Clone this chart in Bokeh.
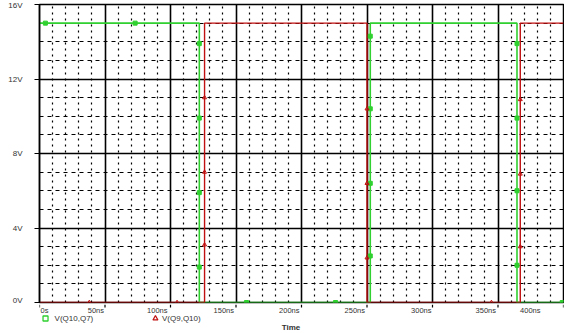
from bokeh.plotting import figure
from bokeh.layouts import column
from bokeh.models import FixedTicker, Range1d
from bokeh.core.properties import value
from bokeh.embed import file_html
from bokeh.resources import INLINE

# ---- data (ns, V) ----
green_t = [0, 122, 122, 252.5, 252.5, 364.5, 364.5, 400]
green_v = [15, 15, 0, 0, 15, 15, 0, 0]
red_t = [0, 126, 126, 250, 250, 367, 367, 400]
red_v = [0, 0, 15, 15, 0, 0, 15, 15]

green_mk_t = [4.5, 73, 122, 122, 122, 122, 158, 226, 252.5, 252.5, 252.5, 252.5, 364.5, 364.5, 364.5, 364.5, 399]
green_mk_v = [15, 15, 13.9, 9.9, 5.9, 1.9, 0, 0, 14.3, 10.4, 6.4, 2.5, 13.9, 9.9, 6.0, 2.0, 0]
red_mk_t = [38, 105, 126, 126, 126, 250, 250, 250, 345, 367, 367, 367]
red_mk_v = [0, 0, 11.0, 7.0, 3.1, 10.4, 6.4, 2.4, 0, 10.9, 6.9, 3.0]

x_ticks = [0, 50, 100, 150, 200, 250, 300, 350, 400]
x_tick_labels = ["0s", "50ns", "100ns", "150ns", "200ns", "250ns", "300ns", "350ns", "400ns"]
x_minor = [t for t in range(0, 401, 10) if t % 50]
y_ticks = [0, 4, 8, 12, 16]
y_tick_labels = ["0V", "4V", "8V", "12V", "16V"]
y_minor = [v for v in range(0, 17) if v % 4]

series_names = ["V(Q10,Q7)", "V(Q9,Q10)"]
x_title = "Time"

GREEN = "#2fd02f"
RED = "#c01010"
FONT = "Liberation Sans"
TXT = "#333333"

# ---- main plot area ----
p = figure(width=564, height=304, output_backend="svg", toolbar_location=None,
           x_range=Range1d(0, 400), y_range=Range1d(0, 16), x_axis_location=None,
           min_border_left=39, min_border_right=1, min_border_top=4, min_border_bottom=2)
p.background_fill_color = "white"
p.border_fill_color = "white"
p.outline_line_color = "black"
p.outline_line_width = 1.5

p.xgrid[0].ticker = FixedTicker(ticks=x_ticks, minor_ticks=x_minor)
p.yaxis.ticker = FixedTicker(ticks=y_ticks, minor_ticks=y_minor)
for g in p.grid:
    g.grid_line_color = "black"
    g.grid_line_width = 1.6
    g.minor_grid_line_color = "black"
    g.minor_grid_line_width = 1.2
p.xgrid.minor_grid_line_dash = "2 4"
p.ygrid.minor_grid_line_dash = "4 4"

ax = p.yaxis[0]
ax.axis_line_color = "black"
ax.axis_line_width = 1.5
ax.major_tick_line_color = "black"
ax.major_tick_line_width = 1.2
ax.major_tick_in = 0
ax.major_tick_out = 5
ax.minor_tick_in = 0
ax.minor_tick_out = 0
ax.major_label_text_font = FONT
ax.major_label_text_color = TXT
ax.major_label_overrides = {t: l for t, l in zip(y_ticks, y_tick_labels)}
ax.major_label_standoff = 12
ax.major_label_text_font_size = "8px"

p.line(green_t, green_v, line_color=GREEN, line_width=1.6)
p.line(red_t, red_v, line_color=RED, line_width=1.4)
p.scatter(green_mk_t, green_mk_v, marker="square", size=4, line_color=GREEN,
          fill_color=GREEN, line_width=1)
p.scatter(red_mk_t, red_mk_v, marker="triangle", size=4, line_color=RED,
          fill_color=None, line_width=1)

# ---- strip below: time-axis ticks and labels, legend, axis title ----
# strip y coordinate = pixels up from the bottom of the page
q = figure(width=564, height=29, output_backend="svg", toolbar_location=None,
           x_range=p.x_range, y_range=Range1d(0, 29),
           x_axis_location=None, y_axis_location=None,
           min_border_left=39, min_border_right=1, min_border_top=0, min_border_bottom=0)
q.grid.visible = False
q.outline_line_color = None
q.background_fill_color = "white"
q.border_fill_color = "white"

q.segment(x0=x_ticks, y0=[29] * len(x_ticks), x1=x_ticks, y1=[26] * len(x_ticks),
          line_color="black", line_width=1.2)
q.text(x_ticks[:1], [23.5], text=x_tick_labels[:1], x_offset=1, text_align="left",
       text_baseline="middle", text_font=value(FONT), text_font_size="7.5px",
       text_color=TXT)
q.text(x_ticks[1:], [23.5] * (len(x_ticks) - 1), text=x_tick_labels[1:],
       x_offset=[-1, -3, -2, -2, -2, -1, -2, -23], text_align="right",
       text_baseline="middle", text_font=value(FONT), text_font_size="7.5px",
       text_color=TXT)

leg_mk_t = [4.6, 88.5]
leg_txt_t = [11.5, 93.5]
q.scatter([leg_mk_t[0]], [15], marker="square", size=5, line_color=GREEN,
          fill_color=None, line_width=1.3)
q.scatter([leg_mk_t[1]], [15], marker="triangle", size=5, line_color=RED,
          fill_color=None, line_width=1.2)
q.text(leg_txt_t, [15, 15], text=series_names, text_align="left",
       text_baseline="middle", text_font=value(FONT), text_font_size="8px",
       text_color=TXT)
q.text([192], [6], text=[x_title], text_align="center", text_baseline="middle",
       text_font=value(FONT), text_font_size="8px", text_font_style="bold",
       text_color=TXT)

open("out.html", "w").write(file_html(column(p, q, spacing=0), INLINE))
